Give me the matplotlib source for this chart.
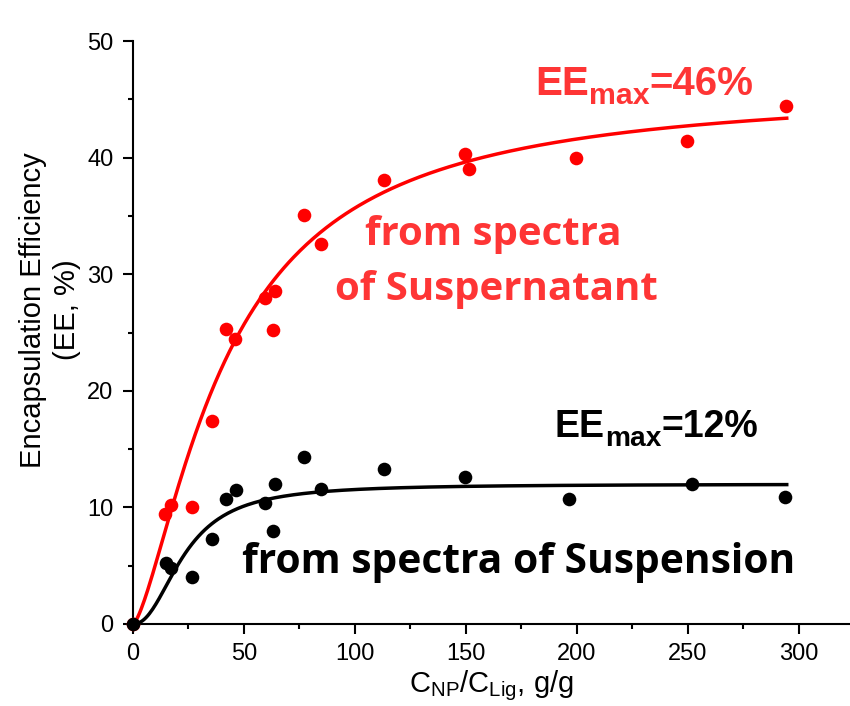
import numpy as np
import matplotlib
matplotlib.use("Agg")
import matplotlib.pyplot as plt
from matplotlib.ticker import MultipleLocator

# measured points, C_NP/C_Lig (g/g) vs EE (%)
sup_x = [0, 14.4, 17.1, 26.6, 35.6, 41.9, 45.9, 59.5, 63.0, 64.0, 77.0, 84.7,
         113.0, 149.5, 151.4, 199.5, 249.5, 294.0]
sup_y = [0, 9.4, 10.2, 10.0, 17.4, 25.3, 24.4, 28.0, 25.2, 28.6, 35.1, 32.6,
         38.1, 40.3, 39.0, 40.0, 41.4, 44.4]

susp_x = [0, 14.9, 17.1, 26.6, 35.6, 41.9, 46.4, 59.5, 63.0, 64.0, 77.0, 84.7,
          113.0, 149.5, 196.4, 251.8, 293.7]
susp_y = [0, 5.2, 4.8, 4.0, 7.3, 10.7, 11.5, 10.4, 8.0, 12.0, 14.3, 11.6,
          13.3, 12.6, 10.7, 12.0, 10.9]

# Hill fits: EEmax, K, n
sup_fit = (46.0, 42.5, 1.45)
susp_fit = (12.0, 23.3, 2.2)
fit_end = 294.5

red = "#ff0000"
red_txt = "#fe3535"


def hill(x, ee_max, k, n):
    return ee_max * x**n / (k**n + x**n)


def ee_label(ax, x, y, value, color, size):
    # "EE" + subscript "max" + "=value"
    kw = dict(color=color, family="Liberation Sans", fontweight="bold")
    t = ax.text(x, y, "EE", fontsize=size, va="baseline", ha="left", **kw)
    s = ax.annotate("max", xy=(1, 0), xycoords=t, xytext=(0, -5),
                    textcoords="offset points", fontsize=size * 0.75,
                    va="bottom", ha="left", **kw)
    ax.annotate("=" + value, xy=(1, 0), xycoords=s, xytext=(0, 5),
                textcoords="offset points", fontsize=size,
                va="bottom", ha="left", **kw)


fig = plt.figure(figsize=(8.5, 7.06), dpi=100)
ax = fig.add_axes([133 / 850, 82 / 706, 717 / 850, 583 / 706])

xx = np.linspace(0, fit_end, 400)
ax.plot(xx, hill(xx, *sup_fit), color=red, lw=2.5, zorder=2)
ax.plot(sup_x, sup_y, "o", color=red, ms=9.8, mec="none", zorder=3,
        clip_on=False)
ax.plot(xx, hill(xx, *susp_fit), color="black", lw=2.5, zorder=4)
ax.plot(susp_x, susp_y, "o", color="black", ms=9.8, mec="none", zorder=5,
        clip_on=False)

ax.set_xlim(0, 323)
ax.set_ylim(0, 50)
for side in ("top", "right"):
    ax.spines[side].set_visible(False)
for side in ("left", "bottom"):
    ax.spines[side].set_linewidth(1.5)

ax.xaxis.set_major_locator(MultipleLocator(50))
ax.xaxis.set_minor_locator(MultipleLocator(25))
ax.yaxis.set_major_locator(MultipleLocator(10))
ax.yaxis.set_minor_locator(MultipleLocator(5))
ax.tick_params(which="major", direction="out", length=7, width=1.5,
               labelsize=17, pad=7)
ax.tick_params(which="minor", direction="out", length=3.5, width=1.5)
for lab in ax.get_xticklabels() + ax.get_yticklabels():
    lab.set_family("Liberation Sans")

ax.set_xlabel(r"C$_{\mathregular{NP}}$/C$_{\mathregular{Lig}}$, g/g",
              fontsize=21, family="Liberation Sans", labelpad=2)
ax.set_ylabel("Encapsulation Efficiency\n(EE, %)", fontsize=21,
              family="Liberation Sans", linespacing=1.3, va="center")
ax.yaxis.set_label_coords(-0.116, 0.539)

ee_label(ax, 181, 45.4, "46%", red_txt, 29)
ee_label(ax, 190, 16.0, "12%", "black", 27)

ax.text(162.5, 32.5, "from spectra", color=red_txt, fontsize=29,
        family="Open Sans", fontweight="bold", ha="center", va="baseline")
ax.text(163.5, 27.8, "of Suspernatant", color=red_txt, fontsize=29,
        family="Open Sans", fontweight="bold", ha="center", va="baseline")
ax.text(49, 4.4, "from spectra of Suspension", color="black", fontsize=29.3,
        family="Open Sans", fontweight="bold", ha="left", va="baseline")

fig.savefig("out.png", dpi=100)
